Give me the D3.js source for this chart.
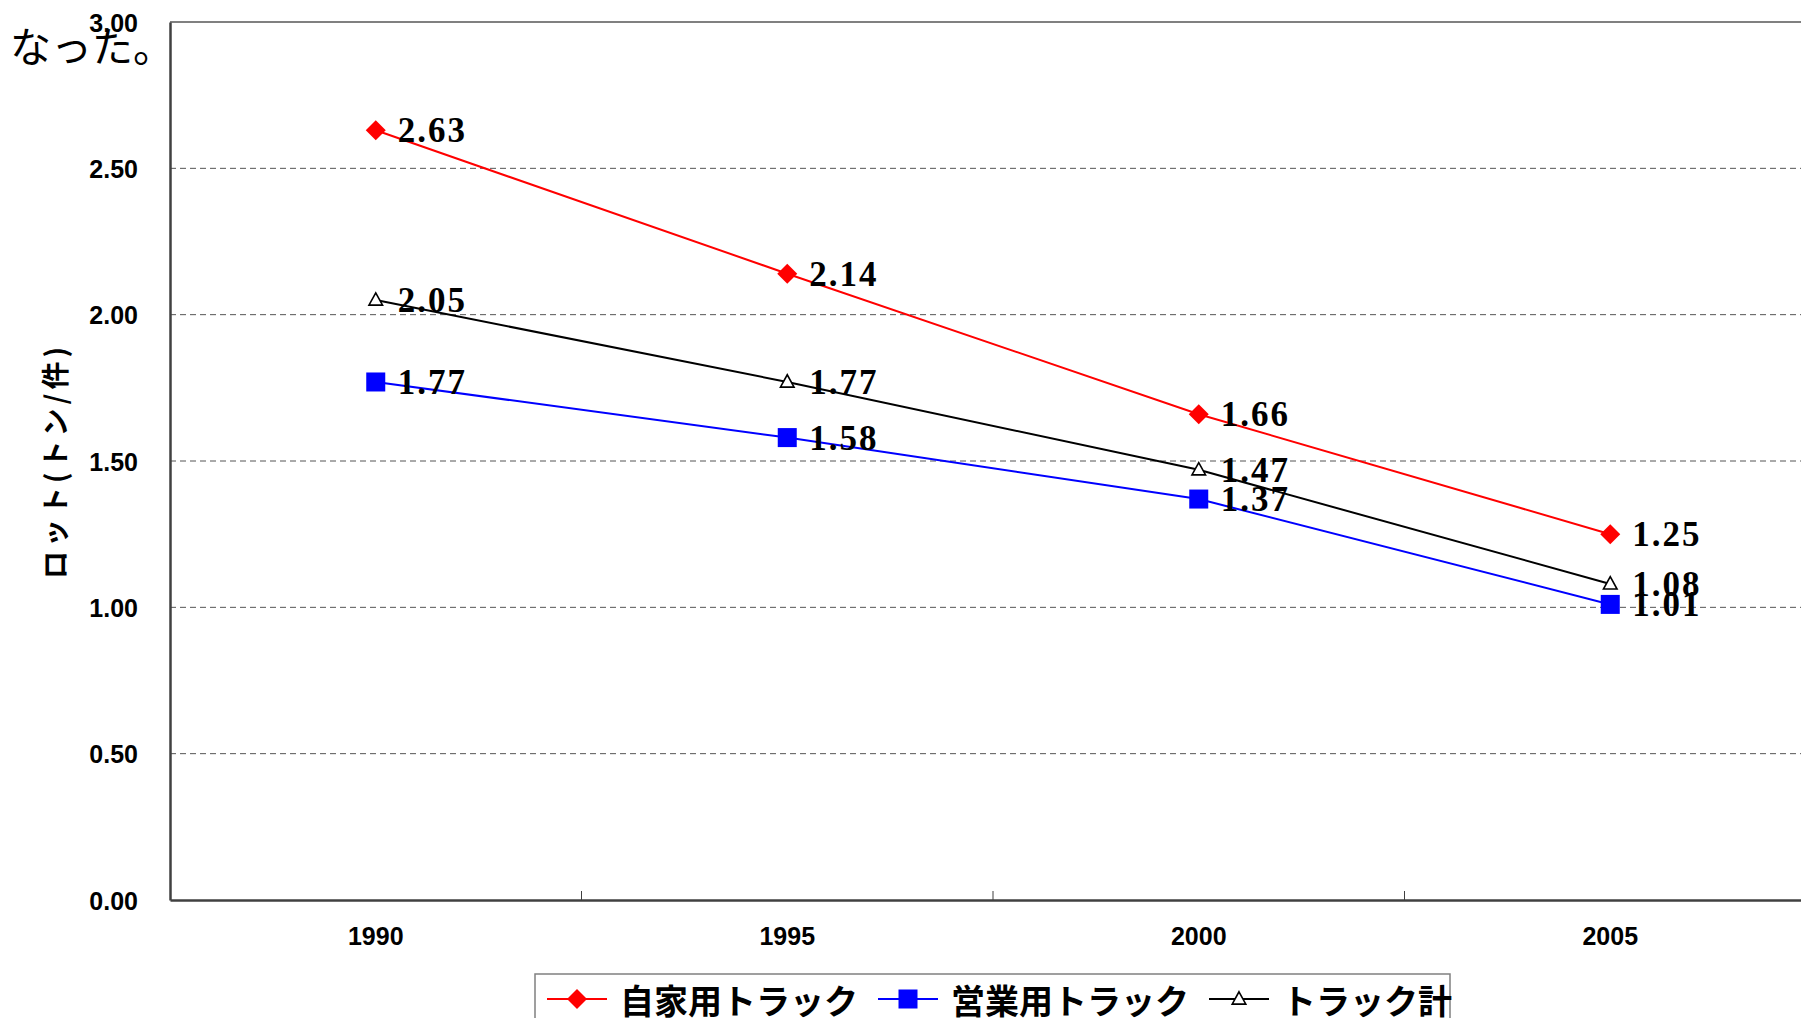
<!DOCTYPE html>
<html>
<head>
  <meta charset="utf-8">
  <title>ロット(トン/件)</title>
  <style>
    body { margin: 0; background: #fff; overflow: hidden; }
    .tick-lbl { font-family: "Liberation Sans", Arial, sans-serif; font-weight: bold; font-size: 25px; fill: #000; }
    .val-lbl { font-family: "Liberation Serif", "Times New Roman", serif; font-weight: bold; font-size: 35px; letter-spacing: 2px; fill: #000; }
    .jp { font-family: "Noto Sans CJK JP", sans-serif; }
  </style>
  <script src="https://cdn.jsdelivr.net/npm/d3@7"></script>
</head>
<body>
<script>
// data
var years = ["1990", "1995", "2000", "2005"];
var jikayou = [2.63, 2.14, 1.66, 1.25];   // 自家用トラック
var eigyou = [1.77, 1.58, 1.37, 1.01];    // 営業用トラック
var total = [2.05, 1.77, 1.47, 1.08];     // トラック計
var yTicks = [0, 0.5, 1.0, 1.5, 2.0, 2.5, 3.0];
var seriesNames = ["自家用トラック", "営業用トラック", "トラック計"];

var series = [
  { name: seriesNames[0], values: jikayou, color: "#ff0000", marker: "diamond" },
  { name: seriesNames[1], values: eigyou, color: "#0000ff", marker: "square" },
  { name: seriesNames[2], values: total, color: "#000000", marker: "triangle" }
];

var W = 1801, H = 1018;
var margin = { top: 22, left: 170 };
var plotW = 1646, plotH = 878;

var svg = d3.select("body").append("svg")
  .attr("width", W)
  .attr("height", H);

// stray text at top left
svg.append("text")
  .attr("class", "jp")
  .attr("x", 10)
  .attr("y", 62)
  .style("font-size", "41px")
  .text("なった。");

var g = svg.append("g")
  .attr("transform", "translate(" + margin.left + "," + margin.top + ")");

var x = d3.scaleBand().domain(years).range([0, plotW]);
var y = d3.scaleLinear().domain([0, 3]).range([plotH, 0]);

// grid lines
g.selectAll(".grid")
  .data(yTicks.filter(function(d) { return d > 0 && d < 3; }))
  .enter().append("line")
  .attr("x1", 0)
  .attr("x2", plotW)
  .attr("y1", function(d) { return y(d); })
  .attr("y2", function(d) { return y(d); })
  .attr("stroke", "#555")
  .attr("stroke-width", 1)
  .attr("stroke-dasharray", "6,4");

// plot border top
g.append("line")
  .attr("x1", 0).attr("x2", plotW)
  .attr("y1", 0).attr("y2", 0)
  .attr("stroke", "#808080")
  .attr("stroke-width", 2);

// y axis
var yAxis = g.append("g")
  .call(d3.axisLeft(y).tickValues(yTicks).tickSize(0).tickPadding(32)
    .tickFormat(d3.format(".2f")));
yAxis.select(".domain").attr("stroke", "#404040").attr("stroke-width", 2.5);
yAxis.selectAll("text").attr("class", "tick-lbl").attr("dy", "0.36em").attr("font-size", null).attr("font-family", null);

// x axis, ticks between categories
var xAxis = g.append("g")
  .attr("transform", "translate(0," + plotH + ")")
  .call(d3.axisBottom(x).tickSize(0).tickPadding(27));
xAxis.select(".domain").attr("stroke", "#404040").attr("stroke-width", 2.5);
xAxis.selectAll("text").attr("class", "tick-lbl").attr("font-size", null).attr("font-family", null);
g.selectAll(".xsep")
  .data(years.slice(1))
  .enter().append("line")
  .attr("x1", function(d) { return x(d); })
  .attr("x2", function(d) { return x(d); })
  .attr("y1", plotH)
  .attr("y2", plotH - 9)
  .attr("stroke", "#404040")
  .attr("stroke-width", 1);

var line = d3.line()
  .x(function(d, i) { return x(years[i]) + x.bandwidth() / 2; })
  .y(function(d) { return y(d); });

function drawMarker(sel, type, color, size) {
  if (type === "diamond") {
    sel.append("path")
      .attr("d", "M0," + (-size) + "L" + size + ",0L0," + size + "L" + (-size) + ",0Z")
      .attr("fill", color);
  } else if (type === "square") {
    sel.append("rect")
      .attr("x", -size).attr("y", -size)
      .attr("width", size * 2).attr("height", size * 2)
      .attr("fill", color);
  } else {
    sel.append("path")
      .attr("d", "M0," + (-size * 0.85) + "L" + (size * 0.8) + "," + (size * 0.6) + "L" + (-size * 0.8) + "," + (size * 0.6) + "Z")
      .attr("fill", "#fff")
      .attr("stroke", color)
      .attr("stroke-width", 1.6);
  }
}

var markerSize = { diamond: 10, square: 9.5, triangle: 8.5 };

series.forEach(function(s) {
  g.append("path")
    .datum(s.values)
    .attr("d", line)
    .attr("fill", "none")
    .attr("stroke", s.color)
    .attr("stroke-width", 2);

  g.selectAll(".m-" + s.marker)
    .data(s.values)
    .enter().append("g")
    .attr("class", "m-" + s.marker)
    .attr("transform", function(d, i) {
      return "translate(" + (x(years[i]) + x.bandwidth() / 2) + "," + y(d) + ")";
    })
    .each(function() { drawMarker(d3.select(this), s.marker, s.color, markerSize[s.marker]); });
});

// data labels
series.forEach(function(s) {
  g.selectAll(".lbl-" + s.marker)
    .data(s.values)
    .enter().append("text")
    .attr("class", "val-lbl lbl-" + s.marker)
    .attr("x", function(d, i) { return x(years[i]) + x.bandwidth() / 2 + 22; })
    .attr("y", function(d) { return y(d) + 12; })
    .text(function(d) { return d.toFixed(2); });
});

// axis title
svg.append("text")
  .attr("class", "jp")
  .attr("transform", "translate(54," + (margin.top + plotH / 2) + ") rotate(-90)")
  .attr("text-anchor", "middle")
  .attr("dominant-baseline", "central")
  .style("font-size", "28px")
  .style("font-weight", "bold")
  .style("letter-spacing", "4px")
  .text("ロット(トン/件)");

// legend
var legend = svg.append("g").attr("transform", "translate(535,974)");
legend.append("rect")
  .attr("x", 0).attr("y", 0)
  .attr("width", 915).attr("height", 70)
  .attr("fill", "#fff")
  .attr("stroke", "#808080")
  .attr("stroke-width", 1.5);

var lx = 12;
series.forEach(function(s) {
  var item = legend.append("g").attr("transform", "translate(" + lx + ",25)");
  item.append("line")
    .attr("x1", 0).attr("x2", 60)
    .attr("stroke", s.color).attr("stroke-width", 2);
  var m = item.append("g").attr("transform", "translate(30,0)");
  drawMarker(m, s.marker, s.color, markerSize[s.marker]);
  var t = item.append("text")
    .attr("class", "jp")
    .attr("x", 73)
    .attr("dominant-baseline", "central")
    .style("font-size", "34px")
    .style("font-weight", "bold")
    .text(s.name);
  lx += 73 + t.node().getComputedTextLength() + 20;
});
</script>
</body>
</html>
